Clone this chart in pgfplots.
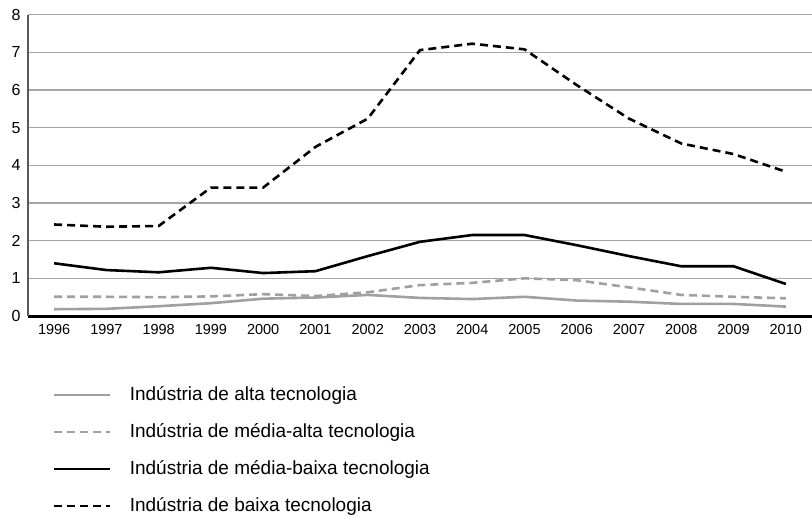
\documentclass[border=0pt]{standalone}
\usepackage{fontspec}
\setmainfont{Liberation Sans}
\usepackage{pgfplots}
\pgfplotsset{compat=1.18}
\definecolor{ggray}{HTML}{A0A0A0}
\definecolor{gridc}{HTML}{A6A6A6}
\definecolor{axl}{HTML}{595959}
\begin{document}
\begin{tikzpicture}[x=1pt,y=1pt]
\begin{axis}[
  at={(0pt,0pt)}, anchor=south west,
  scale only axis,
  width=784pt, height=301.3pt,
  xmin=1995.5, xmax=2010.5,
  ymin=0, ymax=8,
  xtick={1996,...,2010},
  ytick={0,...,8},
  xticklabel style={/pgf/number format/1000 sep={}, font=\fontsize{14.5}{15}\selectfont, yshift=-5pt},
  yticklabel style={font=\fontsize{16}{17}\selectfont, xshift=-4pt},
  /pgf/number format/assume math mode=true,
  tick style={draw=none},
  ymajorgrids,
  grid style={gridc, line width=1.2pt},
  axis x line*=bottom,
  axis y line*=left,
  x axis line style={black, line width=3pt, -},
  y axis line style={axl, line width=2pt, -},
  legend style={
    at={(22/784, -0.228)}, anchor=north west,
    draw=none, fill=none,
    font=\fontsize{19}{20}\selectfont,
    nodes={inner sep=0pt, text height=14pt, text depth=4pt, anchor=base west},
    row sep=19pt, column sep=18pt,
    cells={anchor=west},
  },
  legend cell align=left,
  legend image code/.code={\draw[#1] (0pt,6pt) -- (56pt,6pt);},
]
\addplot[ggray, line width=2.6pt] coordinates {
(1996,0.18) (1997,0.19) (1998,0.26) (1999,0.34) (2000,0.46) (2001,0.49) (2002,0.56)
(2003,0.48) (2004,0.45) (2005,0.51) (2006,0.41) (2007,0.38) (2008,0.32) (2009,0.32) (2010,0.25)};
\addlegendentry{Indústria de alta tecnologia}
\addplot[ggray, line width=2.6pt, dash pattern=on 8pt off 5pt] coordinates {
(1996,0.51) (1997,0.51) (1998,0.50) (1999,0.52) (2000,0.58) (2001,0.53) (2002,0.63)
(2003,0.82) (2004,0.88) (2005,1.00) (2006,0.95) (2007,0.76) (2008,0.56) (2009,0.51) (2010,0.47)};
\addlegendentry{Indústria de média-alta tecnologia}
\addplot[black, line width=2.6pt] coordinates {
(1996,1.40) (1997,1.22) (1998,1.16) (1999,1.28) (2000,1.14) (2001,1.19) (2002,1.59)
(2003,1.97) (2004,2.15) (2005,2.15) (2006,1.88) (2007,1.59) (2008,1.32) (2009,1.32) (2010,0.85)};
\addlegendentry{Indústria de média-baixa tecnologia}
\addplot[black, line width=2.6pt, dash pattern=on 8pt off 5pt] coordinates {
(1996,2.43) (1997,2.37) (1998,2.39) (1999,3.41) (2000,3.41) (2001,4.49) (2002,5.24)
(2003,7.06) (2004,7.23) (2005,7.08) (2006,6.13) (2007,5.24) (2008,4.58) (2009,4.30) (2010,3.83)};
\addlegendentry{Indústria de baixa tecnologia}
\end{axis}
\pgfresetboundingbox
\path (-28pt,-203pt) rectangle (784pt,316pt);
\end{tikzpicture}
\end{document}
